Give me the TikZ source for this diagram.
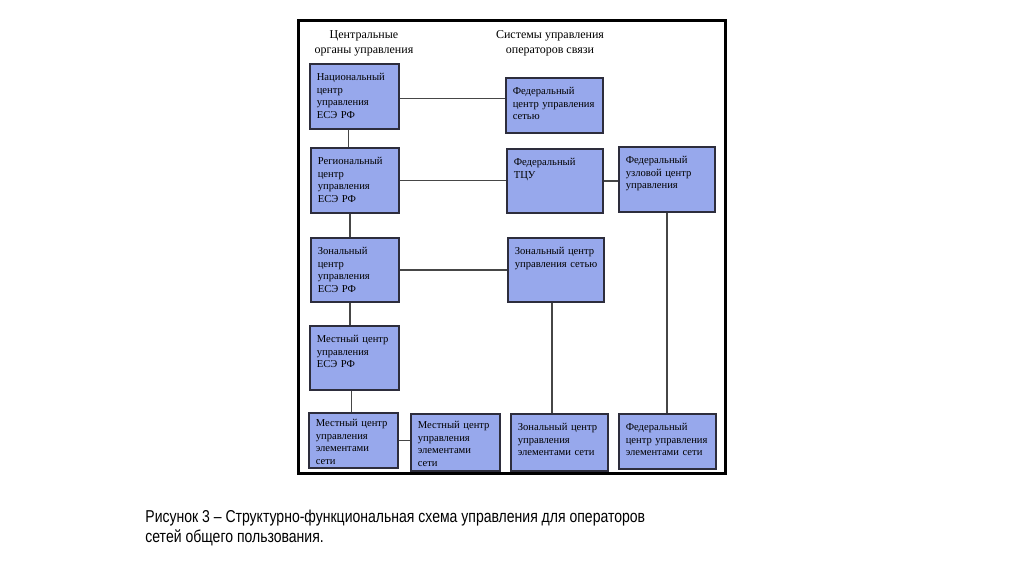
\documentclass[tikz,border=0pt]{standalone}
\usepackage{fontspec}
\setmainfont{Liberation Serif}
\newfontfamily\captfont[FakeStretch=0.815]{Liberation Sans}
\usetikzlibrary{positioning}
\definecolor{unitfill}{RGB}{151,168,236}
\definecolor{unitline}{RGB}{45,45,60}
\definecolor{linkline}{RGB}{70,70,70}
\tikzset{
	unit/.style={draw=unitline, line width=0.8pt, fill=unitfill, anchor=north west,
		inner xsep=3.5pt, inner ysep=0pt, text height=8.5pt, align=left,
		font=\fontsize{5.3}{6.2}\selectfont},
	head/.style={align=center, font=\fontsize{6}{7.5}\selectfont},
	link/.style={draw=linkline, line width=0.7pt}
}

\begin{document}
\begin{tikzpicture}[x=0.5pt,y=-0.5pt]
	\useasboundingbox (0,0) rectangle (1024,574);
	\draw[line width=1.5pt] (298,20) rectangle (725,473);
	
	\node[head] (hcentr) at (364,43) {Центральные\\органы управления};
	\node[head] (hoper) at (550,43) {Системы управления\\операторов связи};
	
	% central bodies
	\node[unit, text width=37.5pt, text depth=24pt] (nat) at (309,63) {Национальный\\центр\\управления\\ЕСЭ~РФ};
	\node[unit, text width=37pt, text depth=24pt] (reg) at (310,147) {Региональный\\центр\\управления\\ЕСЭ~РФ};
	\node[unit, text width=37pt, text depth=23.5pt] (zon) at (310,237) {Зональный\\центр\\управления\\ЕСЭ~РФ};
	\node[unit, text width=37.5pt, text depth=23.5pt] (mest) at (309,325) {Местный~центр\\управления\\ЕСЭ~РФ};
	\node[unit, text width=37.5pt, text height=7pt, text depth=20.5pt] (mel) at (308,412) {Местный~центр\\управления\\элементами\\сети};
	\node[unit, text width=37.5pt, text height=7.5pt, text depth=21pt] (melb) at (410,413) {Местный~центр\\управления\\элементами\\сети};
	
	% operators
	\node[unit, text width=41.5pt, text depth=19pt] (fcus) at (505,77) {Федеральный\\центр~управления\\сетью};
	\node[unit, text width=41pt, text depth=23.5pt] (ftcu) at (506,148) {Федеральный\\ТЦУ};
	\node[unit, text width=41pt, text depth=24pt] (fuzl) at (618,146) {Федеральный\\узловой~центр\\управления};
	\node[unit, text width=41pt, text depth=23.5pt] (zset) at (507,237) {Зональный~центр\\управления~сетью};
	\node[unit, text width=41.5pt, text depth=20pt] (zel) at (510,413) {Зональный~центр\\управления\\элементами~сети};
	\node[unit, text width=41.5pt, text depth=19pt] (fel) at (618,413) {Федеральный\\центр~управления\\элементами~сети};
	
	\draw[link] ([xshift=-3pt]nat.south) -- ([xshift=-3pt]nat.south |- reg.north);
	\draw[link] ([xshift=-2.5pt]reg.south) -- ([xshift=-2.5pt]reg.south |- zon.north);
	\draw[link] ([xshift=-2.5pt]zon.south) -- ([xshift=-2.5pt]zon.south |- mest.north);
	\draw[link] ([xshift=-1.5pt]mest.south) -- ([xshift=-1.5pt]mest.south |- mel.north);
	\draw[link] (mel.east) -- (mel.east -| melb.west);
	
	\draw[link] ([yshift=-1pt]nat.east) -- ([yshift=-1pt]nat.east -| fcus.west);
	\draw[link] (reg.east) -- (reg.east -| ftcu.west);
	\draw[link] (ftcu.east) -- (ftcu.east -| fuzl.west);
	\draw[link] (zon.east) -- (zon.east -| zset.west);
	\draw[link] ([xshift=-2pt]zset.south) -- ([xshift=-2pt]zset.south |- zel.north);
	\draw[link] (fuzl.south) -- (fuzl.south |- fel.north);
	
	\node[anchor=west, align=left, inner sep=0pt, font=\captfont\fontsize{8.6}{10}\selectfont] (capt) at (145,528)
		{Рисунок 3 – Структурно-функциональная схема управления для операторов\\сетей общего пользования.};
\end{tikzpicture}
\end{document}
